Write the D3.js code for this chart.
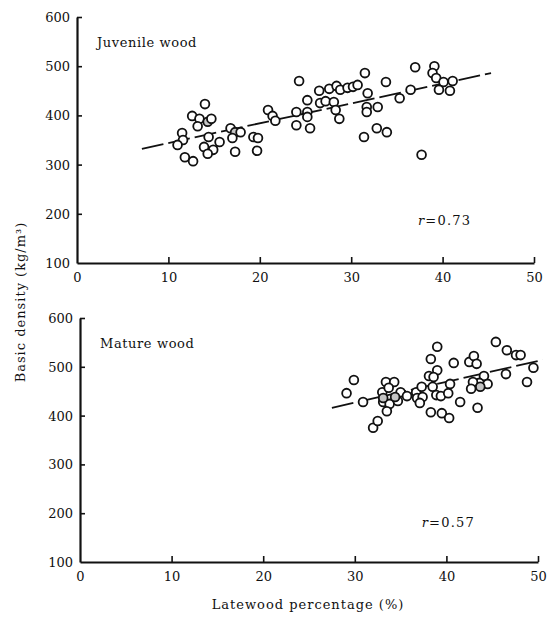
<!DOCTYPE html>
<html>
<head>
<meta charset="utf-8">
<script src="https://cdn.jsdelivr.net/npm/d3@7/dist/d3.min.js"></script>
<style>
  html, body { margin: 0; padding: 0; background: #fff; }
  svg { display: block; }
  text { font-family: "DejaVu Serif", "Liberation Serif", serif; fill: #111; }
</style>
</head>
<body>
<svg id="chart" width="550" height="617"></svg>
<script>
// ---- data ----
const xTicks = [0, 10, 20, 30, 40, 50];
const yTicks = [100, 200, 300, 400, 500, 600];

const juvenileLatewood = [11.5, 11.6, 11.0, 11.8, 12.7, 14.0, 12.6, 13.4, 13.2, 14.3, 14.7, 14.4, 13.9, 14.9, 14.3, 15.6,
  16.8, 17.3, 17.9, 17.0, 17.3, 19.3, 19.8, 19.7, 20.9, 21.4, 21.7, 24.3, 24.0, 24.0, 25.2, 25.2, 25.2, 25.5,
  26.5, 27.6, 28.4, 28.8, 26.6, 27.2, 28.1, 28.3, 28.7, 29.6, 30.2, 30.7, 31.5, 31.8, 31.7, 31.7, 32.9, 33.8,
  32.8, 33.9, 31.4, 35.3, 36.5, 37.0, 39.1, 38.9, 39.3, 40.1, 41.1, 39.6, 40.8, 37.7];
const juvenileDensity = [364, 350, 340, 315, 307, 423, 399, 393, 378, 387, 393, 356, 336, 330, 322, 346,
  374, 366, 366, 354, 326, 356, 354, 328, 411, 399, 389, 470, 407, 380, 431, 407, 397, 374,
  450, 454, 460, 452, 425, 429, 427, 411, 393, 456, 458, 462, 486, 445, 417, 407, 417, 468,
  374, 366, 356, 435, 452, 498, 500, 486, 476, 468, 470, 452, 450, 320];
const juvenileShaded = [9, 17];

const matureLatewood = [29.1, 29.9, 30.9, 32.0, 32.5, 33.0, 33.4, 34.3, 33.7, 35.0, 35.7, 33.1, 33.8, 34.7, 33.5,
  33.1, 34.4, 36.7, 36.8, 37.4, 37.3, 37.1, 39.0, 38.3, 40.8, 42.5, 43.0, 43.3, 39.0, 38.1, 38.6, 40.4,
  38.5, 38.9, 39.4, 40.2, 41.5, 38.3, 39.5, 40.3, 43.4, 44.1, 43.6, 42.9, 44.5, 42.7, 43.7, 45.4, 46.6,
  47.6, 48.1, 49.5, 48.8, 46.5];
const matureDensity = [446, 473, 428, 375, 389, 448, 469, 469, 457, 448, 440, 428, 424, 430, 409,
  436, 438, 448, 436, 438, 459, 426, 541, 516, 508, 510, 522, 506, 493, 481, 479, 465,
  459, 442, 440, 446, 428, 407, 405, 395, 416, 481, 467, 469, 465, 455, 459, 551, 534,
  524, 524, 498, 469, 485];
const matureShaded = [15, 16, 46];

const juvenileFitX = [7.1, 45.3];
const juvenileFitY = [332, 486];
const matureFitX = [27.5, 50.5];
const matureFitY = [416, 514];

const panelTitles = ["Juvenile wood", "Mature wood"];
const rLabels = ["0.73", "0.57"];
const xLabel = "Latewood percentage (%)";
const yLabel = "Basic density (kg/m\u00B3)";

// ---- drawing ----
const svg = d3.select("#chart");

const panels = [
  { title: panelTitles[0], xs: juvenileLatewood, ys: juvenileDensity, shaded: juvenileShaded,
    fitX: juvenileFitX, fitY: juvenileFitY, r: rLabels[0],
    left: 77, right: 534, top: 17, bottom: 263 },
  { title: panelTitles[1], xs: matureLatewood, ys: matureDensity, shaded: matureShaded,
    fitX: matureFitX, fitY: matureFitY, r: rLabels[1],
    left: 80, right: 538, top: 318, bottom: 562 }
];

panels.forEach(p => {
  const x = d3.scaleLinear().domain([0, 50]).range([p.left, p.right]);
  const y = d3.scaleLinear().domain([100, 600]).range([p.bottom, p.top]);
  const g = svg.append("g");

  // axes
  const xAxis = d3.axisBottom(x).tickValues(xTicks).tickSize(-6).tickSizeOuter(0).tickPadding(10);
  const yAxis = d3.axisLeft(y).tickValues(yTicks).tickSize(-5).tickSizeOuter(0).tickPadding(7);

  const gx = g.append("g").attr("transform", `translate(0,${p.bottom})`).call(xAxis);
  const gy = g.append("g").attr("transform", `translate(${p.left},0)`).call(yAxis);

  [gx, gy].forEach(a => {
    a.select(".domain").attr("stroke", "#111").attr("stroke-width", 2.2);
    a.selectAll(".tick line").attr("stroke", "#111").attr("stroke-width", 1.6);
    a.selectAll(".tick text").style("font-family", "'DejaVu Serif', serif").style("font-size", "13px").attr("fill", "#111");
  });
  gy.selectAll(".tick").filter(d => d === 100).select("line").remove();
  gx.selectAll(".tick").filter(d => d === 0).select("line").remove();
  gy.selectAll(".tick text").attr("dy", "0.35em");

  // regression line
  g.append("line")
    .attr("x1", x(p.fitX[0])).attr("y1", y(p.fitY[0]))
    .attr("x2", x(p.fitX[1])).attr("y2", y(p.fitY[1]))
    .attr("stroke", "#111").attr("stroke-width", 1.8)
    .attr("stroke-dasharray", "22,5");

  // points
  const idx = d3.range(p.xs.length);
  g.append("g").selectAll("circle").data(idx).join("circle")
    .attr("cx", i => x(p.xs[i]))
    .attr("cy", i => y(p.ys[i]))
    .attr("r", 4.4)
    .attr("fill", i => p.shaded.includes(i) ? "#c4c4c4" : "#fff")
    .attr("stroke", "#111")
    .attr("stroke-width", 1.8);

  // title
  g.append("text")
    .attr("x", p.left + 20).attr("y", p.top + 30)
    .style("font-size", "13px").style("letter-spacing", "0.6px")
    .text(p.title);

  // r label
  const rt = g.append("text")
    .attr("x", x(37.3)).attr("y", y(p === panels[0] ? 178 : 172))
    .style("font-size", "13px").style("letter-spacing", "1.2px");
  rt.append("tspan").style("font-style", "italic").text("r");
  rt.append("tspan").text("=" + p.r);
});

// axis titles
svg.append("text")
  .attr("x", 308).attr("y", 609)
  .attr("text-anchor", "middle")
  .style("font-size", "13px").style("letter-spacing", "1px")
  .text(xLabel);

svg.append("text")
  .attr("transform", "translate(25,302) rotate(-90)")
  .attr("text-anchor", "middle")
  .style("font-size", "13px").style("letter-spacing", "1px")
  .text(yLabel);
</script>
</body>
</html>
